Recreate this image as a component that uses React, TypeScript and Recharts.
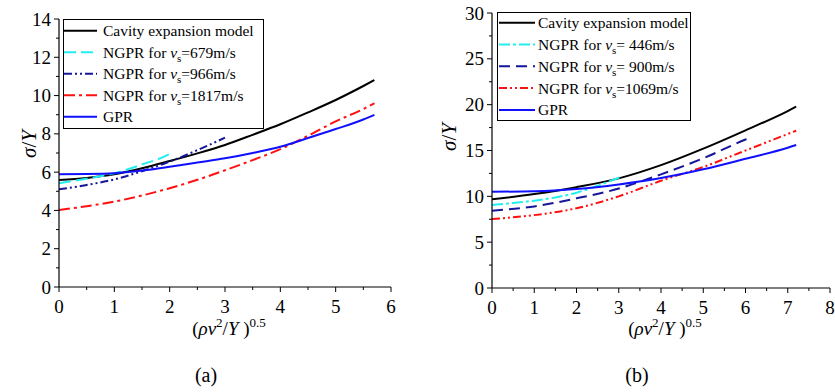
import React from 'react';
import { LineChart, Line, XAxis, YAxis, Legend } from 'recharts';

// ---------- panel (a) ----------
const xA = [0, 0.5, 1, 1.5, 2, 2.5, 3, 3.5, 4, 4.5, 5, 5.5, 5.7];
const cavityA = [5.59, 5.7, 5.89, 6.2, 6.58, 6.98, 7.42, 7.95, 8.5, 9.12, 9.77, 10.5, 10.81];
const gprA = [5.89, 5.9, 5.94, 6.08, 6.28, 6.5, 6.72, 7.0, 7.33, 7.78, 8.25, 8.75, 8.99];
const ngpr1817 = [4.02, 4.22, 4.46, 4.78, 5.16, 5.6, 6.1, 6.63, 7.2, 7.9, 8.65, 9.3, 9.6];
const x679 = [0, 0.5, 1, 1.5, 2, 2.06];
const ngpr679 = [5.42, 5.66, 5.94, 6.4, 6.95, 7.05];
const x966 = [0, 0.5, 1, 1.5, 2, 2.5, 3];
const ngpr966 = [5.1, 5.33, 5.62, 6.05, 6.55, 7.15, 7.8];

const xTicksA = [0, 0.5, 1, 1.5, 2, 2.5, 3, 3.5, 4, 4.5, 5, 5.5, 6];
const yTicksA = [0, 1, 2, 3, 4, 5, 6, 7, 8, 9, 10, 11, 12, 13, 14];

// ---------- panel (b) ----------
const xB = [0, 1, 2, 3, 4, 5, 6, 7, 7.2];
const cavityB = [9.67, 10.25, 11.0, 11.96, 13.4, 15.2, 17.2, 19.3, 19.78];
const gprB = [10.5, 10.55, 10.8, 11.3, 12.0, 12.95, 14.1, 15.3, 15.6];
const ngpr1069 = [7.53, 7.95, 8.7, 10.0, 11.7, 13.2, 15.0, 16.8, 17.16];
const x446 = [0, 0.5, 1, 1.5, 2, 2.5, 3.02];
const ngpr446 = [9.05, 9.27, 9.53, 9.88, 10.4, 11.15, 12.07];
const x900 = [0, 1, 2, 3, 4, 5, 6, 6.07];
const ngpr900 = [8.44, 8.9, 9.78, 10.85, 12.4, 14.15, 16.2, 16.33];

const xTicksB = [0, 0.5, 1, 1.5, 2, 2.5, 3, 3.5, 4, 4.5, 5, 5.5, 6, 6.5, 7, 7.5, 8];
const yTicksB = [0, 2.5, 5, 7.5, 10, 12.5, 15, 17.5, 20, 22.5, 25, 27.5, 30];

const FONT = '"Liberation Serif", "DejaVu Serif", serif';
const CYAN = '#22EEF2';
const NAVY = '#16169A';
const RED = '#FF1010';
const BLUE = '#1010FF';

const txt: React.CSSProperties = { fontFamily: FONT };

const zip = (xs: number[], ys: number[]) => xs.map((x, i) => ({ x, y: ys[i] }));

type Series = {
  key: string;
  label: string | null; // null -> plain name, otherwise NGPR speed suffix
  name: string;
  color: string;
  dash?: string;
  data: { x: number; y: number }[];
};

const seriesA: Series[] = [
  { key: 'cav', name: 'Cavity expansion model', label: null, color: '#000', data: zip(xA, cavityA) },
  { key: 'n679', name: 'NGPR679', label: '=679m/s', color: CYAN, dash: '12 5', data: zip(x679, ngpr679) },
  { key: 'n966', name: 'NGPR966', label: '=966m/s', color: NAVY, dash: '8 3 2 3 2 3', data: zip(x966, ngpr966) },
  { key: 'n1817', name: 'NGPR1817', label: '=1817m/s', color: RED, dash: '11 4 3 4', data: zip(xA, ngpr1817) },
  { key: 'gpr', name: 'GPR', label: null, color: BLUE, data: zip(xA, gprA) },
];

const seriesB: Series[] = [
  { key: 'cav', name: 'Cavity expansion model', label: null, color: '#000', data: zip(xB, cavityB) },
  { key: 'n446', name: 'NGPR446', label: '= 446m/s', color: CYAN, dash: '11 3 3 3', data: zip(x446, ngpr446) },
  { key: 'n900', name: 'NGPR900', label: '= 900m/s', color: NAVY, dash: '11 6', data: zip(x900, ngpr900) },
  { key: 'n1069', name: 'NGPR1069', label: '=1069m/s', color: RED, dash: '8 3 2 3 2 3', data: zip(xB, ngpr1069) },
  { key: 'gpr', name: 'GPR', label: null, color: BLUE, data: zip(xB, gprB) },
];

const TICK_SIZE = 5;
const TICK_MARGIN = 3;
const MAJOR = 5;
const MINOR = 3;

const isMajor = (v: number, step: number) => Math.abs(v / step - Math.round(v / step)) < 1e-6;

const makeYTick = (step: number) => (props: any) => {
  const { x, y, payload } = props;
  const v = payload.value as number;
  const major = isMajor(v, step);
  const axisX = x + TICK_MARGIN + TICK_SIZE;
  return (
    <g>
      <line x1={axisX - (major ? MAJOR : MINOR)} x2={axisX} y1={y} y2={y} stroke="#000" strokeWidth={1} />
      {major && (
        <text x={x} y={y} textAnchor="end" dominantBaseline="central" style={txt} fontSize={19} fill="#000">
          {v}
        </text>
      )}
    </g>
  );
};

const makeXTick = (step: number) => (props: any) => {
  const { x, y, payload } = props;
  const v = payload.value as number;
  const major = isMajor(v, step);
  const axisY = y - TICK_MARGIN - TICK_SIZE - 2;
  return (
    <g>
      <line x1={x} x2={x} y1={axisY} y2={axisY + (major ? MAJOR : MINOR)} stroke="#000" strokeWidth={1} />
      {major && (
        <text x={x} y={y + 3} dy="0.71em" textAnchor="middle" style={txt} fontSize={19} fill="#000">
          {v}
        </text>
      )}
    </g>
  );
};

const YTitle = ({ cx, cy }: { cx: number; cy: number }) => (
  <text
    x={cx}
    y={cy}
    transform={`rotate(-90 ${cx} ${cy})`}
    textAnchor="middle"
    dominantBaseline="central"
    style={txt}
    fontSize={21}
    fill="#000"
  >
    <tspan fontStyle="italic">σ</tspan>
    <tspan>/</tspan>
    <tspan fontStyle="italic">Y</tspan>
  </text>
);

const XTitle = ({ cx, base, tag, tagX }: { cx: number; base: number; tag: string; tagX: number }) => (
  <g>
    <text x={cx} y={base} textAnchor="middle" style={txt} fontSize={19} fill="#000">
      <tspan>(</tspan>
      <tspan fontStyle="italic">ρv</tspan>
      <tspan dy={-8} fontSize={13}>2</tspan>
      <tspan dy={8}>/</tspan>
      <tspan fontStyle="italic">Y </tspan>
      <tspan>)</tspan>
      <tspan dy={-8} fontSize={13}>0.5</tspan>
    </text>
    <text x={tagX} y={382} textAnchor="middle" style={txt} fontSize={20} fill="#000">
      {tag}
    </text>
  </g>
);

type LegendGeom = {
  width: number;
  height: number;
  row0: number;
  gap: number;
  l0: number;
  l1: number;
  tx: number;
};

const LegendBox = ({ series, g }: { series: Series[]; g: LegendGeom }) => (
  <svg width={g.width} height={g.height} style={{ display: 'block', overflow: 'visible' }}>
    <rect x={0.5} y={0.5} width={g.width - 1} height={g.height - 1} fill="#fff" stroke="#000" strokeWidth={1} />
    {series.map((s, i) => {
      const cy = g.row0 + i * g.gap;
      return (
        <g key={s.key}>
          <line x1={g.l0} x2={g.l1} y1={cy} y2={cy} stroke={s.color} strokeWidth={2} strokeDasharray={s.dash} />
          <text x={g.tx} y={cy + 5.5} style={txt} fontSize={15.5} fill="#000">
            {s.label === null ? (
              s.name
            ) : (
              <>
                <tspan>NGPR for </tspan>
                <tspan fontStyle="italic">v</tspan>
                <tspan dy={4} fontSize={11}>s</tspan>
                <tspan dy={-4}>{s.label}</tspan>
              </>
            )}
          </text>
        </g>
      );
    })}
  </svg>
);

type PanelProps = {
  series: Series[];
  left: number;
  width: number;
  margin: { top: number; right: number; bottom: number; left: number };
  yWidth: number;
  xDomain: [number, number];
  yDomain: [number, number];
  xTicks: number[];
  yTicks: number[];
  yMajor: number;
  yTitle: { cx: number; cy: number };
  xTitle: { cx: number; base: number; tag: string; tagX: number };
  legendPos: { left: number; top: number };
  legendGeom: LegendGeom;
};

const Panel = (p: PanelProps) => (
  <div style={{ position: 'absolute', left: p.left, top: 0, width: p.width, height: 392, fontFamily: FONT }}>
    <LineChart width={p.width} height={392} margin={p.margin} style={{ fontFamily: FONT }}>
      <XAxis
        type="number"
        dataKey="x"
        domain={p.xDomain}
        ticks={p.xTicks}
        interval={0}
        allowDataOverflow
        height={60}
        tickSize={TICK_SIZE}
        tickMargin={TICK_MARGIN + 2}
        tickLine={false}
        axisLine={{ stroke: '#000', strokeWidth: 1.2 }}
        tick={makeXTick(1)}
        label={{ content: () => <XTitle {...p.xTitle} /> }}
      />
      <YAxis
        type="number"
        domain={p.yDomain}
        ticks={p.yTicks}
        interval={0}
        allowDataOverflow
        width={p.yWidth}
        tickSize={TICK_SIZE}
        tickMargin={TICK_MARGIN}
        tickLine={false}
        axisLine={{ stroke: '#000', strokeWidth: 1.2 }}
        tick={makeYTick(p.yMajor)}
        label={{ content: () => <YTitle {...p.yTitle} /> }}
      />
      <Legend
        layout="vertical"
        align="center"
        verticalAlign="middle"
        wrapperStyle={{
          position: 'absolute',
          left: p.legendPos.left,
          top: p.legendPos.top,
          width: p.legendGeom.width,
          height: p.legendGeom.height,
        }}
        content={() => <LegendBox series={p.series} g={p.legendGeom} />}
      />
      {p.series.map((s) => (
        <Line
          key={s.key}
          data={s.data}
          dataKey="y"
          name={s.name}
          type="monotone"
          stroke={s.color}
          strokeWidth={2}
          strokeDasharray={s.dash}
          dot={false}
          activeDot={false}
          isAnimationActive={false}
        />
      ))}
    </LineChart>
  </div>
);

export default function App() {
  return (
    <div
      style={{
        position: 'absolute',
        left: 0,
        top: 0,
        width: 835,
        height: 392,
        background: '#fff',
        overflow: 'hidden',
        fontFamily: FONT,
      }}
    >
      <Panel
        series={seriesA}
        left={0}
        width={420}
        margin={{ top: 19, right: 29, bottom: 45, left: 0 }}
        yWidth={59}
        xDomain={[0, 6]}
        yDomain={[0, 14]}
        xTicks={xTicksA}
        yTicks={yTicksA}
        yMajor={2}
        yTitle={{ cx: 29, cy: 144 }}
        xTitle={{ cx: 229, base: 335, tag: '(a)', tagX: 206 }}
        legendPos={{ left: 63, top: 19 }}
        legendGeom={{ width: 201, height: 110, row0: 11.7, gap: 21.5, l0: 1, l1: 34, tx: 40 }}
      />
      <Panel
        series={seriesB}
        left={420}
        width={415}
        margin={{ top: 13, right: 5, bottom: 44, left: 0 }}
        yWidth={72}
        xDomain={[0, 8]}
        yDomain={[0, 30]}
        xTicks={xTicksB}
        yTicks={yTicksB}
        yMajor={5}
        yTitle={{ cx: 29, cy: 137 }}
        xTitle={{ cx: 245, base: 335, tag: '(b)', tagX: 217 }}
        legendPos={{ left: 77, top: 12 }}
        legendGeom={{ width: 194, height: 109, row0: 10.7, gap: 21.8, l0: 2, l1: 38, tx: 41 }}
      />
    </div>
  );
}
